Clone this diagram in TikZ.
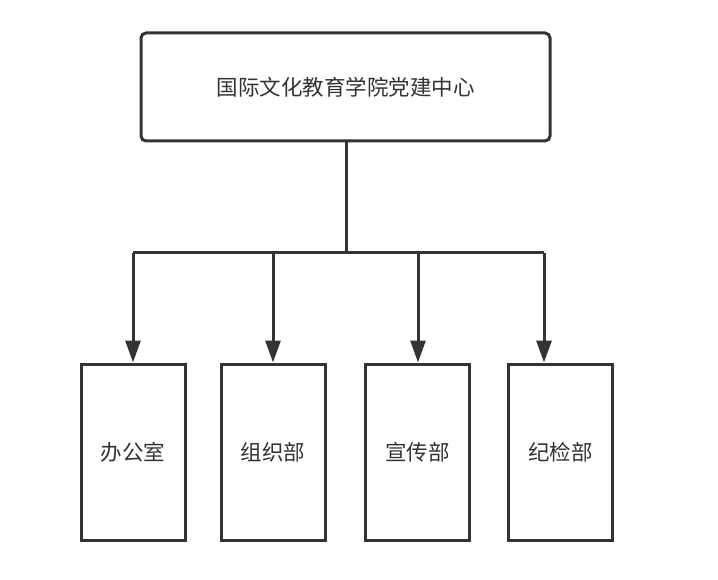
\documentclass[tikz,border=0pt]{standalone}
\usepackage{fontspec}
\newfontfamily\cjk{Noto Sans CJK SC}
\usetikzlibrary{arrows.meta}
\definecolor{ink}{HTML}{333333}
\begin{document}
\begin{tikzpicture}[x=1pt,y=-1pt,
  box/.style={draw=ink,line width=3pt,fill=white,inner sep=0pt,text=ink,font=\cjk\fontsize{21.5}{26}\selectfont},
  topbox/.style={box,rounded corners=5pt,minimum width=409pt,minimum height=108pt},
  subbox/.style={box,minimum width=104pt,minimum height=176pt},
  conn/.style={draw=ink,line width=3pt},
  arr/.style={conn,-{Triangle[width=15pt,length=22pt]}}]
\useasboundingbox (0,0) rectangle (718,580);
\node[topbox] (top) at (345.5,87) {国际文化教育学院党建中心};
\node[subbox] (b1) at (133,452) {办公室};
\node[subbox] (b2) at (273,452) {组织部};
\node[subbox] (b3) at (417.5,452) {宣传部};
\node[subbox] (b4) at (560.5,452) {纪检部};
\coordinate (j) at (346,253);
\coordinate (l) at (133,253);
\coordinate (m) at (418,253);
\coordinate (r) at (544,253);
\draw[conn] (top.south -| j) -- (j);
\draw[conn] (l) -- (r);
\draw[arr] (l) -- (b1.north);
\draw[arr] (b2.north |- j) -- (b2.north);
\draw[arr] (m) -- (m |- b3.north);
\draw[arr] (r) -- (r |- b4.north);
\end{tikzpicture}
\end{document}
